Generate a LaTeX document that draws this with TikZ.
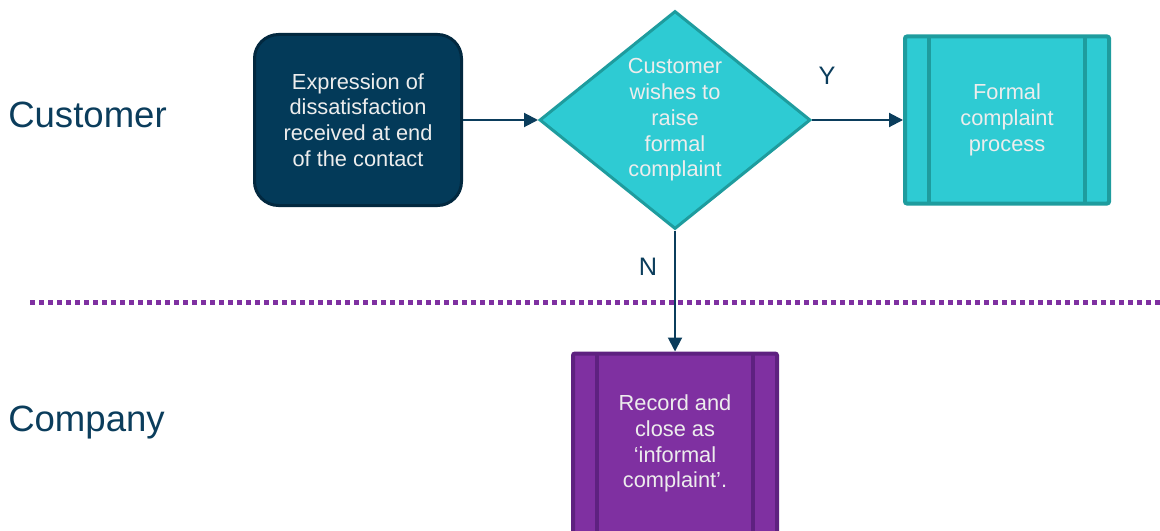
\documentclass[tikz,border=0pt]{standalone}
\usepackage{fontspec}
\setmainfont{Liberation Sans}
\usetikzlibrary{positioning, shapes.geometric, arrows.meta}

\definecolor{navyfill}{HTML}{033A59}
\definecolor{navyedge}{HTML}{02283F}
\definecolor{cyanfill}{HTML}{2ECBD3}
\definecolor{cyanedge}{HTML}{1E9C9E}
\definecolor{plumfill}{HTML}{7F30A1}
\definecolor{plumedge}{HTML}{5E2180}
\definecolor{inkblue}{HTML}{0B3D5C}

\begin{document}
\begin{tikzpicture}[
    x=0.25mm, y=-0.25mm,
    node distance=18.75mm,
    boxtext/.style={text=white!93!black, align=center, font=\fontsize{15.5}{18.3}\selectfont},
    start/.style={boxtext, draw=navyedge, line width=0.75mm, fill=navyfill, rounded corners=6mm, minimum width=51.75mm, minimum height=42.75mm},
    decision/.style={boxtext, diamond, draw=cyanedge, line width=0.75mm, fill=cyanfill, inner sep=0pt, minimum width=67.75mm, minimum height=54.5mm},
    subproc/.style 2 args={boxtext, draw=#2, fill=#1, line width=1mm, rounded corners=0.5mm, minimum width=51mm, minimum height=41.75mm,
        path picture={
            \draw[#2, line width=1mm]
                ([xshift=6mm]path picture bounding box.north west) -- ([xshift=6mm]path picture bounding box.south west)
                ([xshift=-6mm]path picture bounding box.north east) -- ([xshift=-6mm]path picture bounding box.south east);
        }},
    flow/.style={draw=inkblue, line width=0.5mm, -{Triangle[length=3.5mm, width=3.5mm]}},
    lane/.style={text=inkblue, anchor=west, inner sep=0pt, font=\fontsize{26}{30}\selectfont},
    answer/.style={text=inkblue, font=\fontsize{18}{21}\selectfont},
    divider/.style={draw=plumfill, line width=1.25mm, dash pattern=on 1.25mm off 1mm}
]
\useasboundingbox (0,0) rectangle (1160,531);

% Lanes
\node[lane] (customer) at (8,115) {Customer};
\node[lane] (company) at (8,423) {Company};
\draw[divider] (30,302) -- (1160,302);

% Nodes
\node[start] (expr) at (358,120) {Expression of\\dissatisfaction\\received at end\\of the contact};
\node[decision, right=of expr] (wish) {Customer\\wishes to\\raise\\formal\\complaint};
\node[subproc={cyanfill}{cyanedge}, right=22.75mm of wish] (formal) {Formal\\complaint\\process};
\node[subproc={plumfill}{plumedge}, below=30.25mm of wish, minimum height=45mm] (record) {Record and\\close as\\`informal\\complaint'.};

% Edges
\draw[flow] (expr) -- (wish);
\draw[flow] (wish) -- (formal);
\draw[flow] (wish) -- (record);
\node[answer] (yes) at (827,76) {Y};
\node[answer] (no) at (648,267) {N};

\end{tikzpicture}
\end{document}
